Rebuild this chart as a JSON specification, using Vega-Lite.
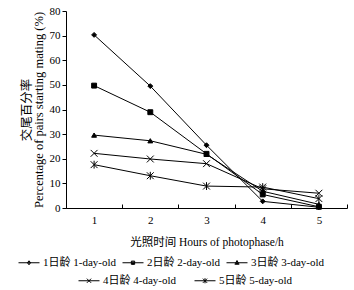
{
  "$schema": "https://vega.github.io/schema/vega-lite/v6.json",
  "width": 281,
  "height": 197,
  "autosize": {"type": "none"},
  "padding": {"left": 66, "top": 11, "right": 7, "bottom": 82},
  "background": "white",
  "config": {
    "view": {"stroke": null},
    "font": "Liberation Serif, 'Noto Sans CJK SC'",
    "axis": {"domainColor": "black", "tickColor": "black", "labelColor": "black", "titleColor": "black", "labelFont": "Liberation Serif", "titleFont": "Liberation Serif, 'Noto Sans CJK SC'", "labelFontSize": 11, "titleFontSize": 11.5, "titleFontWeight": "normal", "grid": false, "domainWidth": 1, "tickWidth": 1},
    "legend": {"padding": 0}
  },
  "data": {
    "values": [
      {"h": "1", "s": "1日龄 1-day-old", "v": 70.3},
      {"h": "2", "s": "1日龄 1-day-old", "v": 49.5},
      {"h": "3", "s": "1日龄 1-day-old", "v": 25.5},
      {"h": "4", "s": "1日龄 1-day-old", "v": 2.7},
      {"h": "5", "s": "1日龄 1-day-old", "v": 0.3},
      {"h": "1", "s": "2日龄 2-day-old", "v": 49.7},
      {"h": "2", "s": "2日龄 2-day-old", "v": 38.9},
      {"h": "3", "s": "2日龄 2-day-old", "v": 22.0},
      {"h": "4", "s": "2日龄 2-day-old", "v": 5.5},
      {"h": "5", "s": "2日龄 2-day-old", "v": 0.5},
      {"h": "1", "s": "3日龄 3-day-old", "v": 29.6},
      {"h": "2", "s": "3日龄 3-day-old", "v": 27.3},
      {"h": "3", "s": "3日龄 3-day-old", "v": 21.8},
      {"h": "4", "s": "3日龄 3-day-old", "v": 6.8},
      {"h": "5", "s": "3日龄 3-day-old", "v": 1.5},
      {"h": "1", "s": "4日龄 4-day-old", "v": 22.2},
      {"h": "2", "s": "4日龄 4-day-old", "v": 19.9},
      {"h": "3", "s": "4日龄 4-day-old", "v": 18.0},
      {"h": "4", "s": "4日龄 4-day-old", "v": 7.8},
      {"h": "5", "s": "4日龄 4-day-old", "v": 6.0},
      {"h": "1", "s": "5日龄 5-day-old", "v": 17.6},
      {"h": "2", "s": "5日龄 5-day-old", "v": 13.1},
      {"h": "3", "s": "5日龄 5-day-old", "v": 8.9},
      {"h": "4", "s": "5日龄 5-day-old", "v": 8.5},
      {"h": "5", "s": "5日龄 5-day-old", "v": 3.8}
    ]
  },
  "encoding": {
    "x": {
      "field": "h", "type": "ordinal",
      "scale": {"type": "band", "paddingInner": 0, "paddingOuter": 0},
      "axis": {"title": "光照时间 Hours of photophase/h", "labelAngle": 0, "tickBand": "extent", "tickSize": -4, "labelPadding": 10, "titlePadding": 11}
    },
    "y": {
      "field": "v", "type": "quantitative",
      "scale": {"domain": [0, 80], "nice": false},
      "axis": {"title": ["交尾百分率", "Percentage of pairs starting mating (%)"], "titleFontSize": 12.5, "values": [0, 10, 20, 30, 40, 50, 60, 70, 80], "tickSize": 4, "labelPadding": 2, "titlePadding": 4, "titleLineHeight": 12}
    }
  },
  "layer": [
    {
      "mark": {"type": "line", "color": "black", "strokeWidth": 1},
      "encoding": {"detail": {"field": "s"}}
    },
    {
      "mark": {"type": "point", "filled": true, "color": "black", "stroke": "black", "strokeWidth": 1, "opacity": 1, "size": 24},
      "encoding": {
        "shape": {
          "field": "s",
          "scale": {"range": ["diamond", "square", "triangle-up", "M-1.4,-1.4L1.4,1.4M-1.4,1.4L1.4,-1.4", "M-1.4,-1.4L1.4,1.4M-1.4,1.4L1.4,-1.4M0,-1.6L0,1.6"]},
          "legend": null
        }
      }
    },
    {
      "transform": [{"filter": {"field": "s", "oneOf": ["1日龄 1-day-old", "2日龄 2-day-old", "3日龄 3-day-old"]}}],
      "mark": {"type": "point", "filled": false, "color": "black", "strokeWidth": 1, "opacity": 0},
      "encoding": {
        "shape": {
          "field": "s",
          "scale": {"domain": ["1日龄 1-day-old", "2日龄 2-day-old", "3日龄 3-day-old"], "range": ["M-3.5,0H3.5M0,-0.65L0.55,0L0,0.65L-0.55,0ZM0,-0.6V0.6", "M-3.5,0H3.5M-0.55,-0.55H0.55V0.55H-0.55ZM-0.55,-0.25H0.55M-0.55,0.25H0.55", "M-3.5,0H3.5M0,-0.75L0.7,0.5H-0.7ZM0,-0.6V0.5M-0.35,0.25H0.35"]},
          "legend": {
            "title": null, "orient": "none", "direction": "horizontal", "legendX": -42.5, "legendY": 246, "symbolSize": 36,
            "symbolStrokeColor": "black", "symbolStrokeWidth": 1, "symbolOpacity": 1,
            "labelFont": "Liberation Serif, 'Noto Sans CJK SC'", "labelFontSize": 11, "labelColor": "black",
            "labelOffset": 8.5, "columnPadding": 4
          }
        }
      }
    },
    {
      "transform": [{"filter": {"field": "s", "oneOf": ["4日龄 4-day-old", "5日龄 5-day-old"]}}],
      "mark": {"type": "point", "filled": false, "color": "black", "strokeWidth": 1, "opacity": 0},
      "encoding": {
        "shape": {
          "field": "s",
          "scale": {"domain": ["4日龄 4-day-old", "5日龄 5-day-old"], "range": ["M-3.5,0H3.5M-0.7,-0.7L0.7,0.7M-0.7,0.7L0.7,-0.7", "M-3.5,0H3.5M-0.7,-0.7L0.7,0.7M-0.7,0.7L0.7,-0.7M0,-0.85V0.85"]},
          "legend": {
            "title": null, "orient": "none", "direction": "horizontal", "legendX": 17.5, "legendY": 264, "symbolSize": 36,
            "symbolStrokeColor": "black", "symbolStrokeWidth": 1, "symbolOpacity": 1,
            "labelFont": "Liberation Serif, 'Noto Sans CJK SC'", "labelFontSize": 11, "labelColor": "black",
            "labelOffset": 8.5, "columnPadding": 16
          }
        }
      }
    }
  ],
  "resolve": {"scale": {"shape": "independent"}}
}
